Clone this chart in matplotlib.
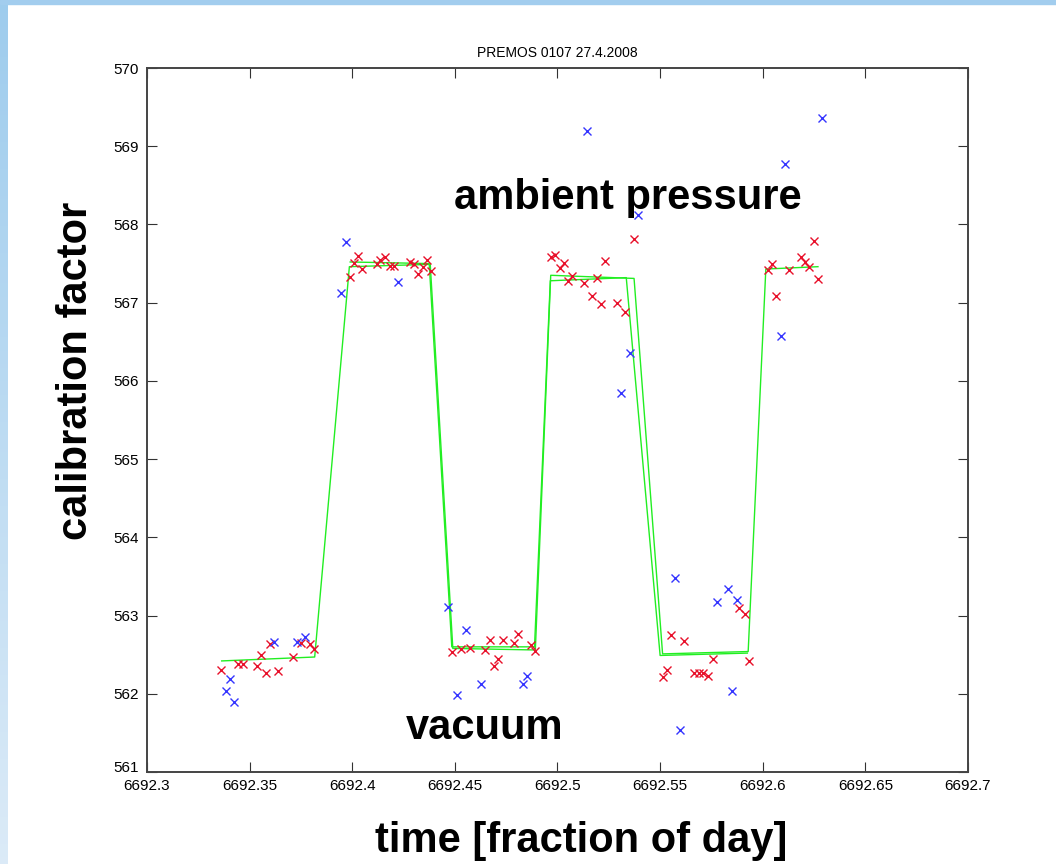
import matplotlib
matplotlib.use("Agg")
import matplotlib.pyplot as plt
import matplotlib.transforms as mtransforms
import numpy as np
from matplotlib.patches import Rectangle

plt.rcParams["font.family"] = ["Liberation Sans", "DejaVu Sans"]

# measured points (time in days, calibration factor)
t_blue = [6692.3383, 6692.3404, 6692.3425, 6692.3619, 6692.3729, 6692.3771,
          6692.3947, 6692.3968, 6692.4225, 6692.4468, 6692.4509, 6692.4553,
          6692.4629, 6692.4832, 6692.4851, 6692.5144, 6692.5311, 6692.5352,
          6692.5392, 6692.5574, 6692.5597, 6692.5776, 6692.5832, 6692.5852,
          6692.5873, 6692.6089, 6692.6108, 6692.6289]
c_blue = [562.03, 562.19, 561.89, 562.66, 562.66, 562.72,
          567.12, 567.77, 567.27, 563.11, 561.98, 562.82,
          562.12, 562.13, 562.23, 569.19, 565.85, 566.36,
          568.12, 563.48, 561.54, 563.17, 563.34, 562.03,
          563.20, 566.58, 568.77, 569.36]

t_red = [6692.3362, 6692.3445, 6692.3466, 6692.3537, 6692.3557, 6692.3580,
         6692.3599, 6692.3640, 6692.3710, 6692.3750, 6692.3794, 6692.3814,
         6692.3988, 6692.4007, 6692.4030, 6692.4049, 6692.4119, 6692.4135,
         6692.4161, 6692.4184, 6692.4203, 6692.4281, 6692.4301, 6692.4322,
         6692.4343, 6692.4364, 6692.4385, 6692.4488, 6692.4528, 6692.4574,
         6692.4648, 6692.4670, 6692.4691, 6692.4712, 6692.4733, 6692.4788,
         6692.4809, 6692.4871, 6692.4892, 6692.4967, 6692.4988, 6692.5012,
         6692.5032, 6692.5053, 6692.5072, 6692.5129, 6692.5170, 6692.5191,
         6692.5212, 6692.5233, 6692.5288, 6692.5330, 6692.5373, 6692.5512,
         6692.5532, 6692.5553, 6692.5616, 6692.5665, 6692.5688, 6692.5707,
         6692.5735, 6692.5756, 6692.5886, 6692.5914, 6692.5933, 6692.6026,
         6692.6045, 6692.6066, 6692.6129, 6692.6185, 6692.6206, 6692.6227,
         6692.6248, 6692.6269]
c_red = [562.30, 562.38, 562.38, 562.35, 562.49, 562.27,
         562.64, 562.29, 562.47, 562.65, 562.64, 562.57,
         567.33, 567.51, 567.60, 567.43, 567.50, 567.55,
         567.58, 567.47, 567.47, 567.52, 567.50, 567.37,
         567.46, 567.55, 567.40, 562.53, 562.57, 562.58,
         562.56, 562.69, 562.35, 562.44, 562.69, 562.65,
         562.76, 562.62, 562.55, 567.59, 567.61, 567.44,
         567.51, 567.28, 567.34, 567.25, 567.08, 567.32,
         566.98, 567.53, 567.00, 566.88, 567.82, 562.22,
         562.30, 562.75, 562.67, 562.27, 562.27, 562.27,
         562.23, 562.44, 563.10, 563.02, 562.42, 567.42,
         567.49, 567.08, 567.42, 567.58, 567.52, 567.46,
         567.79, 567.30]

# fitted step curves
t_fit1 = [6692.3364, 6692.3817, 6692.3986, 6692.4380, 6692.4490, 6692.4892,
          6692.4967, 6692.5373, 6692.5512, 6692.5929, 6692.6015, 6692.6269]
c_fit1 = [562.42, 562.47, 567.46, 567.49, 562.58, 562.56,
          567.35, 567.31, 562.51, 562.54, 567.43, 567.46]
t_fit2 = [6692.3990, 6692.4375, 6692.4485, 6692.4888, 6692.4965, 6692.5335,
          6692.5500, 6692.5925]
c_fit2 = [567.52, 567.50, 562.60, 562.60, 567.28, 567.32, 562.49, 562.52]

x_ticklabels = ["6692.3", "6692.35", "6692.4", "6692.45", "6692.5",
                "6692.55", "6692.6", "6692.65", "6692.7"]

fig = plt.figure(figsize=(10.56, 8.64), dpi=100)

# slide frame: gradient strip on the left, band on top
bg = fig.add_axes([0, 0, 8 / 1056, 1])
grad = np.linspace(0, 1, 256)[:, None]
top_col = np.array([0.62, 0.80, 0.93])
bot_col = np.array([0.86, 0.92, 0.97])
bg.imshow((top_col * (1 - grad) + bot_col * grad).reshape(256, 1, 3),
          aspect="auto", extent=[0, 1, 0, 1])
bg.axis("off")
fig.patches.append(Rectangle((0, 1 - 4 / 864), 1, 4 / 864, transform=fig.transFigure,
                             color="#a2cdee", zorder=0))

ax = fig.add_axes([147 / 1056, 1 - 772 / 864, 821 / 1056, 704 / 864])
ax.plot(t_fit1, c_fit1, color="#22ee22", lw=1)
ax.plot(t_fit2, c_fit2, color="#22ee22", lw=1)
ax.plot(t_red, c_red, "x", color="#e8102a", ms=6, mew=1)
ax.plot(t_blue, c_blue, "x", color="#3535ff", ms=6, mew=1)

ax.set_xlim(6692.3, 6692.7)
ax.set_ylim(561, 570)
ax.set_xticks(np.linspace(6692.3, 6692.7, 9))
ax.set_xticklabels(x_ticklabels)
ax.set_yticks(range(561, 571))
ax.tick_params(direction="in", length=7, width=0.8, color="#333333",
               labelsize=11, top=True, right=True)
ax.tick_params(axis="x", pad=5)
ax.tick_params(axis="y", pad=6)
for s in ax.spines.values():
    s.set_color("#444444")
    s.set_linewidth(1.4)

# lift the bottom y label a little, as in the original
lbl = ax.get_yticklabels()[0]
lbl.set_transform(lbl.get_transform() + mtransforms.ScaledTranslation(0, 6 / 100, fig.dpi_scale_trans))

ax.set_title("PREMOS 0107 27.4.2008", fontsize=10, pad=8)
ax.set_xlabel("time [fraction of day]", fontsize=30, fontweight="bold")
ax.xaxis.set_label_coords(0.5286, -0.07)
ax.set_ylabel("calibration factor", fontsize=30, fontweight="bold")
ax.yaxis.set_label_coords(-0.062, 0.5696)

ax.text(6692.5343, 568.34, "ambient pressure", fontsize=30, fontweight="bold",
        ha="center", va="center")
ax.text(6692.4647, 561.56, "vacuum", fontsize=30, fontweight="bold",
        ha="center", va="center")

fig.savefig("out.png", dpi=100)
